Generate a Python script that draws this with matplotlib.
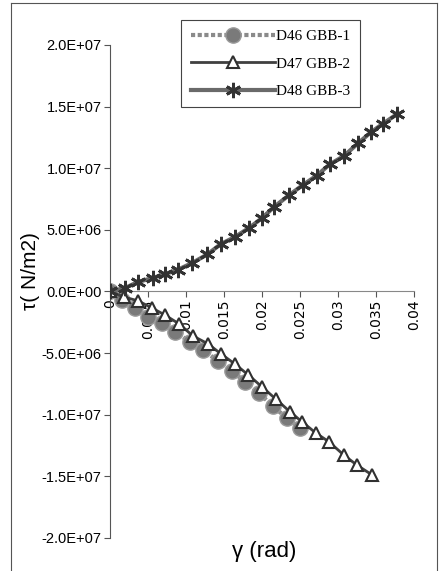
import matplotlib
matplotlib.use("Agg")
import matplotlib.pyplot as plt
from matplotlib.lines import Line2D

# D46 GBB-1
g1 = [0, 0.0016, 0.0033, 0.0050, 0.0068, 0.0086, 0.0105, 0.0122, 0.0142,
      0.0160, 0.0178, 0.0196, 0.0214, 0.0233, 0.0250]
t1 = [0, -6.9e5, -1.34e6, -2.07e6, -2.56e6, -3.29e6, -4.1e6, -4.75e6, -5.64e6,
      -6.45e6, -7.35e6, -8.24e6, -9.3e6, -1.03e7, -1.11e7]

# D47 GBB-2
g2 = [0, 0.0018, 0.0037, 0.0055, 0.0072, 0.0091, 0.0109, 0.0129, 0.0146,
      0.0164, 0.0182, 0.0200, 0.0218, 0.0237, 0.0253, 0.0271, 0.0288,
      0.0308, 0.0325, 0.0345]
t2 = [0, -4.5e5, -7.7e5, -1.34e6, -1.91e6, -2.64e6, -3.61e6, -4.26e6, -5.07e6,
      -5.88e6, -6.78e6, -7.75e6, -8.73e6, -9.78e6, -1.06e7, -1.15e7, -1.22e7,
      -1.33e7, -1.41e7, -1.49e7]

# D48 GBB-3
g3 = [0, 0.0020, 0.0037, 0.0057, 0.0072, 0.0089, 0.0108, 0.0128, 0.0146,
      0.0164, 0.0183, 0.0200, 0.0216, 0.0236, 0.0254, 0.0272, 0.0289,
      0.0308, 0.0326, 0.0343, 0.0359, 0.0378]
t3 = [0, 2.8e5, 7.7e5, 1.1e6, 1.4e6, 1.75e6, 2.3e6, 3.0e6, 3.85e6,
      4.4e6, 5.15e6, 5.95e6, 6.86e6, 7.83e6, 8.64e6, 9.4e6, 1.03e7,
      1.10e7, 1.20e7, 1.29e7, 1.36e7, 1.44e7]

xticks = [0, 0.005, 0.01, 0.015, 0.02, 0.025, 0.03, 0.035, 0.04]
yticks = [2e7, 1.5e7, 1e7, 5e6, 0, -5e6, -1e7, -1.5e7, -2e7]

fig = plt.figure(figsize=(4.4, 5.71), dpi=100)
ax = fig.add_axes([0.25, 0.058, 0.691, 0.8634])

ax.plot(g1, t1, color='#8a8a8a', lw=3, ls=(0, (1, 0.6)), marker='o', ms=11,
        mfc='#7a7a7a', mec='#9a9a9a', mew=1, label='D46 GBB-1', zorder=2)
ax.plot(g2, t2, color='#404040', lw=2, marker='^', ms=9, mfc='white',
        mec='#303030', mew=1.5, label='D47 GBB-2', zorder=3)
ax.plot(g3, t3, color='#6a6a6a', lw=3, marker=(6, 2, 0), ms=11,
        mec='#333333', mew=2, label='D48 GBB-3', zorder=4)

ax.set_xlim(0, 0.04)
ax.set_ylim(-2e7, 2e7)
ax.set_xticks(xticks)
ax.set_xticklabels(['%g' % v for v in xticks],
                   family='Liberation Serif', fontsize=10.5)
ax.set_yticks(yticks)
ax.set_yticklabels(['%.1E' % v for v in yticks],
                   family='Liberation Sans', fontsize=10.5)

ax.spines['top'].set_visible(False)
ax.spines['right'].set_visible(False)
ax.spines['bottom'].set_position(('data', 0))
ax.spines['left'].set_color('#555555')
ax.spines['bottom'].set_color('#888888')
ax.tick_params(direction='out', length=4, color='#555555', pad=2)
ax.tick_params(axis='x', labelrotation=90)

leg = ax.legend(loc='upper left', bbox_to_anchor=(0.21, 1.065),
                prop={'family': 'Liberation Serif', 'size': 11},
                handlelength=5.5, handletextpad=0.1, labelspacing=0.9,
                borderpad=0.6, frameon=True, fancybox=False, framealpha=1)
leg.get_frame().set_edgecolor('#444444')
leg.get_frame().set_linewidth(0.8)

fig.text(0.07, 0.525, 'τ( N/m2)', rotation=90, ha='center', va='center',
         family='Liberation Sans', fontsize=15)
fig.text(0.6, 0.035, 'γ (rad)', ha='center', va='center',
         family='Liberation Sans', fontsize=16)

# page frame
for xs, ys in [([0.025, 0.025], [0, 0.995]), ([0.025, 0.993], [0.995, 0.995]),
               ([0.993, 0.993], [0, 0.995])]:
    fig.add_artist(Line2D(xs, ys, color='#555555', lw=0.8))

fig.savefig('out.png', dpi=100)
